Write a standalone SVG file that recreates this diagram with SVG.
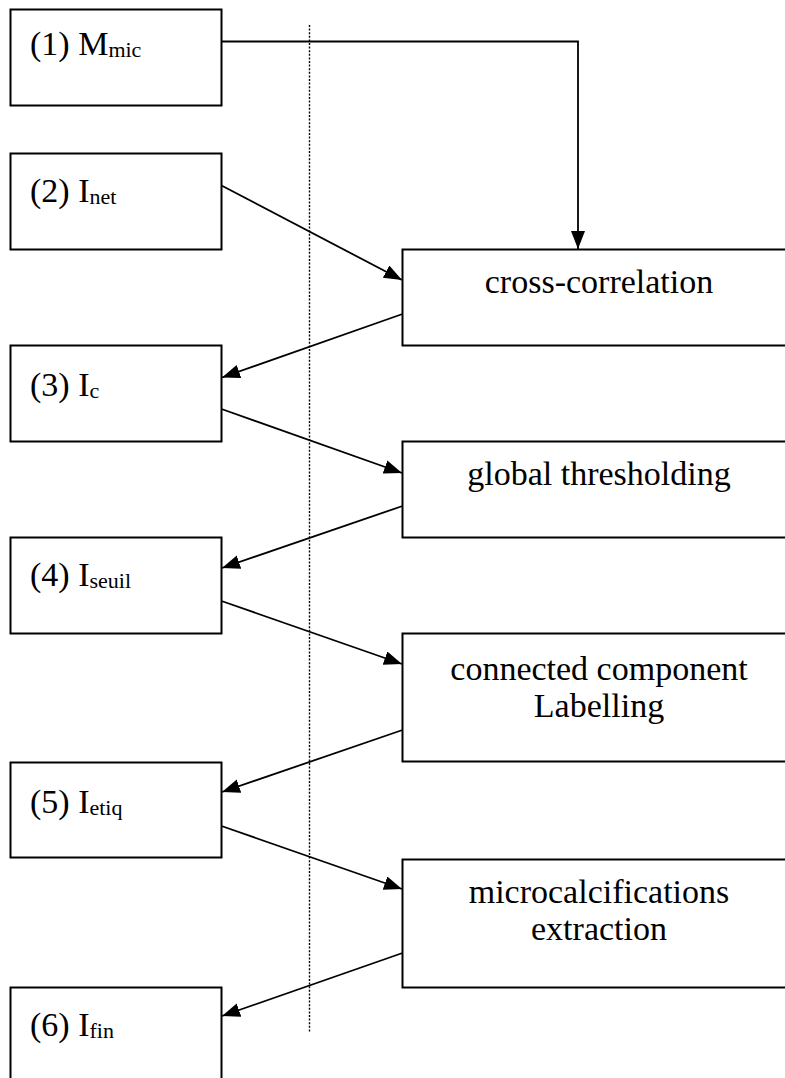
<svg xmlns="http://www.w3.org/2000/svg" width="785" height="1078" viewBox="0 0 785 1078">
  <style>
    .box { fill: #fff; stroke: #000; stroke-width: 2; }
    .lbl { font-family: "Liberation Serif", "Times New Roman", "DejaVu Serif", serif; font-size: 34px; fill: #000; }
    .sub { font-size: 22px; }
    .mid { text-anchor: middle; }
    .wire { fill: none; stroke: #000; stroke-width: 1.8; }
    .guide { fill: none; stroke: #000; stroke-width: 1.4; stroke-dasharray: 2 1.6; }
  </style>
  <defs>
    <marker id="arrow" markerUnits="userSpaceOnUse" markerWidth="19" markerHeight="15" refX="18" refY="7" orient="auto">
      <path d="M0,0 L18,7 L0,14 z" fill="#000"/>
    </marker>
  </defs>

  <rect width="785" height="1078" fill="#fff"/>

  <!-- vertical dotted guide -->
  <line class="guide" x1="309.5" y1="25" x2="309.5" y2="1032"/>

  <!-- image nodes (left column) -->
  <g id="node-mmic">
    <rect class="box" x="10.5" y="9.5" width="211" height="96"/>
    <text class="lbl" x="30" y="55">(1) M<tspan class="sub" dy="2">mic</tspan></text>
  </g>
  <g id="node-inet">
    <rect class="box" x="10.5" y="153.5" width="211" height="96"/>
    <text class="lbl" x="30" y="202">(2) I<tspan class="sub" dy="2">net</tspan></text>
  </g>
  <g id="node-ic">
    <rect class="box" x="10.5" y="345.5" width="211" height="96"/>
    <text class="lbl" x="30" y="396">(3) I<tspan class="sub" dy="2">c</tspan></text>
  </g>
  <g id="node-iseuil">
    <rect class="box" x="10.5" y="537.5" width="211" height="96"/>
    <text class="lbl" x="30" y="586">(4) I<tspan class="sub" dy="2">seuil</tspan></text>
  </g>
  <g id="node-ietiq">
    <rect class="box" x="10.5" y="762.5" width="211" height="95"/>
    <text class="lbl" x="30" y="813">(5) I<tspan class="sub" dy="2">etiq</tspan></text>
  </g>
  <g id="node-ifin">
    <rect class="box" x="10.5" y="987.5" width="211" height="110"/>
    <text class="lbl" x="30" y="1036">(6) I<tspan class="sub" dy="2">fin</tspan></text>
  </g>

  <!-- processing nodes (right column) -->
  <g id="node-crosscorr">
    <rect class="box" x="402.5" y="249.5" width="400" height="96"/>
    <text class="lbl mid" x="599" y="293">cross-correlation</text>
  </g>
  <g id="node-threshold">
    <rect class="box" x="402.5" y="441.5" width="400" height="96"/>
    <text class="lbl mid" x="599" y="485">global thresholding</text>
  </g>
  <g id="node-labelling">
    <rect class="box" x="402.5" y="633.5" width="400" height="128"/>
    <text class="lbl mid" x="599" y="680">connected component</text>
    <text class="lbl mid" x="599" y="717">Labelling</text>
  </g>
  <g id="node-extraction">
    <rect class="box" x="402.5" y="859.5" width="400" height="128"/>
    <text class="lbl mid" x="599" y="903">microcalcifications</text>
    <text class="lbl mid" x="599" y="940">extraction</text>
  </g>

  <!-- connectors -->
  <g id="connectors">
    <polyline class="wire" points="221.5,41.5 578,41.5 578,249" marker-end="url(#arrow)"/>
    <line class="wire" x1="221.5" y1="185.5" x2="402" y2="280" marker-end="url(#arrow)"/>
    <line class="wire" x1="402.5" y1="314" x2="222" y2="377.5" marker-end="url(#arrow)"/>
    <line class="wire" x1="221.5" y1="409" x2="402" y2="473" marker-end="url(#arrow)"/>
    <line class="wire" x1="402.5" y1="506" x2="222" y2="568" marker-end="url(#arrow)"/>
    <line class="wire" x1="221.5" y1="601" x2="402" y2="664" marker-end="url(#arrow)"/>
    <line class="wire" x1="402.5" y1="730" x2="222" y2="792" marker-end="url(#arrow)"/>
    <line class="wire" x1="221.5" y1="826" x2="402" y2="889" marker-end="url(#arrow)"/>
    <line class="wire" x1="402.5" y1="953" x2="222" y2="1016" marker-end="url(#arrow)"/>
  </g>
</svg>
